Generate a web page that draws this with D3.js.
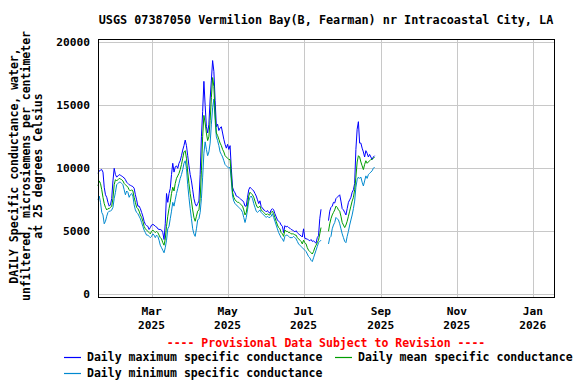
<!DOCTYPE html>
<html>
<head>
<meta charset="utf-8">
<script src="https://cdn.jsdelivr.net/npm/d3@7"></script>
<style>
  body { margin: 0; background: #fff; }
  svg text { font-family: "DejaVu Sans Mono", monospace; font-weight: bold; }
</style>
</head>
<body>
<svg width="576" height="384"></svg>
<script>
/*------------------------
  ------ VARIABLES -------
  ------------------------*/

// input
var title = "USGS 07387050 Vermilion Bay(B, Fearman) nr Intracoastal City, LA";
var y_label = ["DAILY Specific conductance, water,",
               "unfiltered, microsiemens per centimeter",
               "at 25 degrees Celsius"];
var provisional = "---- Provisional Data Subject to Revision ----";
var first_day = "2025-01-17";
var y_ticks = [0, 5000, 10000, 15000, 20000];
var x_ticks = ["2025-03-01", "2025-05-01", "2025-07-01", "2025-09-01", "2025-11-01", "2026-01-01"];

// daily values, one per day from first_day (null = no data)
var daily_max = [
 9600, 9800, 9850, 9900, 9700, 8500, 7900, 7700, 7300, 7000,
 7100, 7600, 9000, 10000, 9500, 9300, 9400, 9500, 9450, 9400,
 9300, 9250, 9100, 8900, 8800, 8700, 8650, 8600, 8550, 8420,
 7900, 7500, 7000, 7000, 6800, 6500, 6200, 5800, 5550, 5450,
 5400, 5150, 5300, 5500, 5550, 5500, 5400, 5350, 5200, 5150,
 5150, 5100, 4900, 4350, 5600, 8000, 7300, 8000, 8400, 9500,
 10400, 9700, 10100, 10200, 10000, 10400, 10600, 11000, 11450, 11800,
 12240, 11800, 11000, 10200, 9500, 9000, 8300, 7600, 7200, 7000,
 7200, 7400, 9500, 12500, 14500, 16900, 15000, 13300, 12800, 13500,
 15500, 17000, 18550, 17700, 15400, 13300, 13500, 13000, 13200, 13300,
 12800, 12300, 11900, 11600, 11900, 11500, 11800, 10000, 8500, 8200,
 8050, 7800, 7750, 7700, 7600, 7500, 7450, 7300, 7000, 7000,
 7700, 8300, 8500, 8400, 8300, 8200, 8000, 7800, 7500, 7200,
 7420, 6950, 6850, 6700, 6650, 6550, 6650, 6500, 6450, 6700,
 6800, 6700, 6400, 6150, 5900, 5800, 5700, 5500, 5400, 4900,
 5450, 5350, 5400, 5300, 5250, 5150, 5100, 5050, 4950, 5050,
 4900, 4800, 4700, 4650, 4550, 5200, 4450, 4400, 4400, 4300,
 4250, 4350, 4200, 4250, 4150, 4050, 4500, 4650, 6000, 6750,
 null, null, null, null, null, 5850, 6600, 6900, 7000, 7300,
 7250, 7600, 7700, 7800, 7900, 7400, 6800, 6700, 6500, 6300,
 6800, 7300, 7500, 7700, 8100, 8300, 8800, 11500, 13100, 13700,
 12000, 12000, 11600, 11300, 10900, 11400, 11200, 10900, 11100, 10900,
 10700, 10900, 11000];

var daily_mean = [
 8600, 9000, 8800, 8300, 7700, 7200, 6900, 6700, 6800, 6800,
 6900, 7000, 7600, 8700, 9100, 9000, 9100, 9200, 9150, 9100,
 9000, 8800, 8700, 8600, 8500, 8300, 8200, 8300, 8200, 7700,
 7300, 6900, 6800, 6600, 6300, 6100, 5800, 5400, 5200, 5100,
 5000, 4900, 4800, 5000, 5100, 5000, 4900, 5000, 4900, 4700,
 4500, 4400, 4100, 3900, 4400, 5400, 6200, 6800, 7300, 8000,
 8500, 8200, 8800, 9200, 9400, 9600, 9900, 10300, 10800, 11300,
 11400, 10800, 9700, 8800, 8000, 7400, 6700, 6100, 5800, 6200,
 6600, 6700, 7600, 9800, 12500, 14200, 13600, 12800, 12200, 12500,
 13800, 15600, 17200, 16500, 14300, 12800, 12600, 12300, 12000, 11800,
 11500, 11300, 11000, 10900, 10800, 10700, 10700, 9400, 8100, 7700,
 7500, 7400, 7300, 7300, 7200, 7100, 7000, 6700, 6300, 6500,
 7100, 7800, 8100, 8000, 7900, 7700, 7400, 7100, 6900, 6900,
 7000, 6700, 6600, 6500, 6400, 6300, 6400, 6300, 6300, 6500,
 6600, 6400, 6100, 5800, 5500, 5300, 5200, 4900, 4800, 4600,
 5100, 5000, 5000, 4900, 4900, 4800, 4800, 4800, 4700, 4700,
 4500, 4400, 4300, 4200, 4000, 4300, 4100, 4000, 3700, 3500,
 3400, 3300, 3200, 3400, 3700, 3900, 4100, 4300, 4800, 5300,
 null, null, null, null, null, 5000, 5600, 6000, 6300, 6500,
 6700, 7000, 6900, 6700, 6600, 6200, 5700, 5500, 5300, 5500,
 5800, 6200, 6600, 7000, 7400, 7700, 8300, 9300, 10500, 11000,
 10900, 10500, 10200, 9900, 10300, 10600, 10400, 10500, 10600, 10700,
 10700, 10800, 10900];

var daily_min = [
 7500, 7800, 7300, 6500, 6300, 5600, 5800, 6200, 6500, 6600,
 6600, 6700, 6900, 7600, 8100, 8700, 8800, 8900, 8900, 8800,
 8700, 8300, 7900, 8200, 8100, 7700, 7900, 8000, 7800, 7100,
 6700, 6500, 6400, 6200, 6000, 5700, 5400, 5100, 4900, 4700,
 4700, 4600, 4500, 4600, 4800, 4700, 4500, 4700, 4600, 4300,
 3900, 3700, 3500, 3300, 3700, 4300, 5200, 5400, 6000, 6600,
 7300, 7000, 7500, 8000, 8400, 8800, 9200, 9500, 9900, 10400,
 10600, 10000, 8700, 7700, 6800, 6000, 5200, 4800, 4600, 5200,
 5900, 6000, 6500, 7600, 9300, 11200, 12100, 11500, 11000, 11300,
 12000, 13500, 14800, 15500, 13800, 12500, 12200, 11800, 11300, 11100,
 10900, 10600, 10300, 10200, 10100, 10000, 10100, 9000, 7800, 7400,
 7200, 7100, 7000, 6900, 6800, 6700, 6500, 6100, 5700, 6100,
 6700, 7400, 7700, 7800, 7600, 7200, 6900, 6600, 6500, 6600,
 6700, 6500, 6400, 6300, 6200, 6100, 6200, 6100, 6100, 6200,
 6400, 6100, 5800, 5500, 5200, 4900, 4700, 4500, 4400, 4200,
 4600, 4700, 4700, 4600, 4500, 4500, 4500, 4600, 4500, 4400,
 4200, 4000, 3900, 3800, 3700, 3600, 3500, 3400, 3200, 3000,
 2900, 2700, 2600, 2900, 3200, 3500, 3800, 4100, 4200, 4300,
 null, null, null, null, null, 4000, 4500, 4600, 5200, 5500,
 5700, 6100, 6000, 5900, 5600, 5200, 4800, 4500, 4200, 4100,
 4600, 5000, 5500, 5900, 6300, 6800, 7400, 8500, 9100, 9300,
 9200, 9300, 8900, 8600, 9000, 9400, 9200, 9500, 9600, 9700,
 9800, 10000, 10100];

var series = [
  {name: "Daily maximum specific conductance", values: daily_max, color: "#0000ff"},
  {name: "Daily mean specific conductance", values: daily_mean, color: "#009d00"},
  {name: "Daily minimum specific conductance", values: daily_min, color: "#0089cf"}
];

// display
var plot = {left: 98, right: 554, top: 39, bot: 297};
var font_size = 11.5;
var title_size = 11.8;
var tick_size = 11.2;
var parse = d3.utcParse("%Y-%m-%d");

var x = d3.scaleUtc()
    .domain([parse("2025-01-17"), parse("2026-01-18")])
    .range([plot.left, plot.right]);
var y = d3.scaleLinear()
    .domain([-210, 20260])
    .range([plot.bot, plot.top]);

var svg = d3.select("svg");

/*------------------------
  ------- HELPERS --------
  ------------------------*/

function day_date(i) {
    return d3.utcDay.offset(parse(first_day), i);
}

function series_points(s) {
    return s.values.map(function(v, i) { return {date: day_date(i), value: v}; });
}

/*------------------------
  ------- DISPLAY --------
  ------------------------*/

function display_grid() {
    var g = svg.append("g").attr("class", "grid-layer")
        .attr("shape-rendering", "crispEdges");

    g.selectAll(".hgrid")
        .data(y_ticks)
        .enter()
        .append("line")
        .attr("x1", plot.left)
        .attr("x2", plot.right)
        .attr("y1", function(d) { return Math.round(y(d)) + 0.5; })
        .attr("y2", function(d) { return Math.round(y(d)) + 0.5; })
        .attr("stroke", "#c8c8c8");

    g.selectAll(".vgrid")
        .data(x_ticks)
        .enter()
        .append("line")
        .attr("x1", function(d) { return Math.round(x(parse(d))) + 0.5; })
        .attr("x2", function(d) { return Math.round(x(parse(d))) + 0.5; })
        .attr("y1", plot.top)
        .attr("y2", plot.bot)
        .attr("stroke", "#c8c8c8");
}

function display_axes() {
    var ya = svg.append("g")
        .attr("transform", "translate(" + plot.left + ",0)")
        .call(d3.axisLeft(y).tickValues(y_ticks).tickSize(0).tickPadding(8)
              .tickFormat(d3.format("d")));
    ya.select(".domain").remove();
    ya.selectAll("text").attr("font-size", tick_size).attr("fill", "#000")
        .attr("font-family", "DejaVu Sans Mono");

    var xa = svg.append("g")
        .attr("transform", "translate(0," + plot.bot + ")")
        .call(d3.axisBottom(x).tickValues(x_ticks.map(parse)).tickSize(0).tickFormat(""));
    xa.select(".domain").remove();

    var lab = svg.append("g").selectAll(".xlab")
        .data(x_ticks)
        .enter()
        .append("text")
        .attr("x", function(d) { return x(parse(d)); })
        .attr("text-anchor", "middle")
        .attr("font-size", tick_size);
    lab.append("tspan").attr("y", 315).text(function(d) { return d3.utcFormat("%b")(parse(d)); });
    lab.append("tspan").attr("y", 329)
        .attr("x", function(d) { return x(parse(d)); })
        .text(function(d) { return d3.utcFormat("%Y")(parse(d)); });

    svg.append("rect")
        .attr("x", plot.left + 0.5)
        .attr("y", plot.top + 0.5)
        .attr("width", plot.right - plot.left)
        .attr("height", plot.bot - plot.top)
        .attr("fill", "none")
        .attr("stroke", "#000")
        .attr("stroke-width", 1.3)
        .attr("shape-rendering", "crispEdges");
}

function display_lines() {
    var line = d3.line()
        .defined(function(d) { return d.value != null; })
        .x(function(d) { return x(d.date); })
        .y(function(d) { return y(d.value); });

    var order = [series[2], series[0], series[1]];
    svg.append("g").selectAll(".series")
        .data(order)
        .enter()
        .append("path")
        .attr("d", function(s) { return line(series_points(s)); })
        .attr("fill", "none")
        .attr("stroke", function(s) { return s.color; })
        .attr("stroke-width", 1);
}

function display_text() {
    svg.append("text")
        .attr("x", (plot.left + plot.right) / 2)
        .attr("y", 24)
        .attr("text-anchor", "middle")
        .attr("font-size", title_size)
        .text(title);

    svg.append("g")
        .attr("transform", "translate(0," + ((plot.top + plot.bot) / 2 - 2) + ") rotate(-90)")
        .selectAll("text")
        .data(y_label)
        .enter()
        .append("text")
        .attr("x", 0)
        .attr("y", function(d, i) { return 18 + i * 12; })
        .attr("text-anchor", "middle")
        .attr("font-size", font_size)
        .text(function(d) { return d; });

    svg.append("text")
        .attr("x", (plot.left + plot.right) / 2)
        .attr("y", 347)
        .attr("text-anchor", "middle")
        .attr("font-size", font_size)
        .attr("fill", "#ff0000")
        .text(provisional);
}

function display_legend() {
    var pos = [{x: 64, y: 357}, {x: 335, y: 357}, {x: 64, y: 373}];
    var items = svg.append("g").selectAll(".legend")
        .data(series)
        .enter()
        .append("g")
        .attr("transform", function(s, i) { return "translate(" + pos[i].x + "," + pos[i].y + ")"; });

    items.append("line")
        .attr("x1", 0).attr("x2", 17)
        .attr("y1", 0.5).attr("y2", 0.5)
        .style("stroke", function(s) { return s.color; })
        .style("stroke-width", 1.2);
    items.append("text")
        .attr("x", 23)
        .attr("y", 4)
        .attr("font-size", font_size)
        .text(function(s) { return s.name; });
}

/*------------------
  ------ RUN -------
  ------------------*/

display_grid();
display_lines();
display_axes();
display_text();
display_legend();
</script>
</body>
</html>
